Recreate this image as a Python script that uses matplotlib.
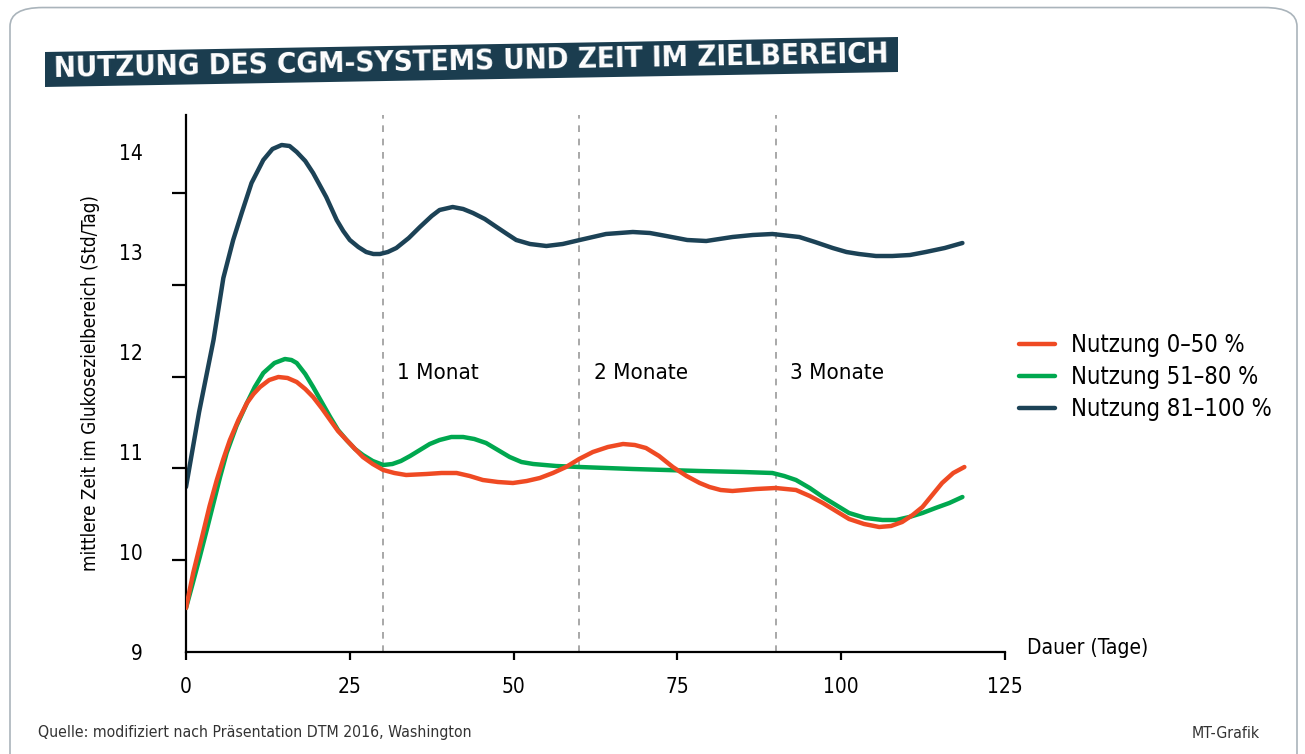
import matplotlib
matplotlib.use("Agg")
import matplotlib.pyplot as plt
from matplotlib.patches import FancyBboxPatch, Polygon

plt.rcParams['font.family'] = ['DejaVu Sans']
plt.rcParams['font.stretch'] = 'condensed'

# values (days, hours/day)
low_x = [0, 1.1, 2.6, 3.6, 4.7, 5.7, 6.7, 8.0, 9.3, 10.3, 11.3, 12.7, 14.1, 15.5, 16.9, 18.2,
         19.4, 20.7, 22.0, 23.2, 24.5, 25.8, 27.0, 28.5, 30.1, 31.8, 33.6, 36.7, 39.0, 41.3,
         43.3, 45.3, 47.6, 49.9, 52.0, 54.0, 56.0, 58.0, 60.0, 62.1, 64.4, 66.7, 68.5, 70.2,
         72.2, 74.3, 76.4, 78.4, 79.9, 81.6, 83.4, 85.2, 87.0, 90.0, 93.1, 95.2, 97.2, 99.2,
         101.2, 103.5, 105.8, 107.6, 109.3, 110.9, 112.4, 113.9, 115.4, 117.1, 118.8]
low_y = [9.44, 9.79, 10.19, 10.46, 10.72, 10.93, 11.12, 11.32, 11.49, 11.58, 11.65, 11.72,
         11.75, 11.74, 11.70, 11.63, 11.55, 11.44, 11.32, 11.21, 11.12, 11.03, 10.95, 10.88,
         10.82, 10.79, 10.77, 10.78, 10.79, 10.79, 10.76, 10.72, 10.70, 10.69, 10.71, 10.74,
         10.79, 10.85, 10.93, 11.0, 11.05, 11.08, 11.07, 11.04, 10.96, 10.85, 10.76, 10.69,
         10.65, 10.62, 10.61, 10.62, 10.63, 10.64, 10.62, 10.56, 10.49, 10.41, 10.33, 10.28,
         10.25, 10.26, 10.30, 10.37, 10.45, 10.57, 10.69, 10.79, 10.85]

mid_x = [0, 1.0, 2.1, 3.2, 4.2, 5.2, 6.2, 7.7, 9.3, 10.5, 11.8, 13.5, 15.1, 16.1, 16.9, 18.2,
         19.4, 20.7, 22.0, 23.2, 24.5, 25.8, 27.0, 28.5, 30.1, 31.5, 32.8, 34.2, 35.7, 37.2,
         38.7, 40.5, 42.3, 44.0, 45.8, 47.6, 49.4, 51.2, 53.0, 56.5, 60.1, 68.2, 78.4, 85.0,
         89.5, 91.3, 93.1, 95.2, 97.2, 99.2, 101.2, 103.7, 106.3, 108.4, 110.4, 112.4, 114.4,
         116.5, 118.5]
mid_y = [9.44, 9.68, 9.95, 10.23, 10.49, 10.75, 10.99, 11.26, 11.49, 11.65, 11.79, 11.89,
         11.93, 11.92, 11.89, 11.78, 11.65, 11.50, 11.35, 11.22, 11.12, 11.03, 10.97, 10.91,
         10.87, 10.88, 10.91, 10.96, 11.02, 11.08, 11.12, 11.15, 11.15, 11.13, 11.09, 11.02,
         10.95, 10.90, 10.88, 10.86, 10.85, 10.83, 10.81, 10.80, 10.79, 10.76, 10.72, 10.64,
         10.55, 10.47, 10.39, 10.34, 10.32, 10.32, 10.35, 10.39, 10.44, 10.49, 10.55]

high_x = [0, 2.0, 4.2, 5.7, 7.2, 8.5, 10.0, 11.8, 13.2, 14.6, 15.8, 16.9, 18.2, 19.4, 21.4,
          23.0, 24.0, 25.0, 26.3, 27.5, 28.6, 29.6, 30.8, 32.1, 34.0, 35.7, 37.5, 38.7, 40.7,
          42.3, 43.8, 45.6, 47.4, 49.0, 50.4, 52.5, 55.0, 57.5, 60.1, 64.1, 68.2, 70.8, 73.3,
          76.5, 79.4, 83.4, 86.5, 89.5, 93.6, 96.0, 98.7, 100.8, 102.7, 105.3, 107.8, 110.5,
          112.9, 115.8, 118.5]
high_y = [10.65, 11.4, 12.12, 12.74, 13.12, 13.39, 13.69, 13.92, 14.03, 14.07, 14.06, 14.0,
          13.91, 13.79, 13.55, 13.32, 13.21, 13.12, 13.05, 13.0, 12.98, 12.98, 13.0, 13.04,
          13.14, 13.25, 13.36, 13.42, 13.45, 13.43, 13.39, 13.33, 13.25, 13.18, 13.12, 13.08,
          13.06, 13.08, 13.12, 13.18, 13.2, 13.19, 13.16, 13.12, 13.11, 13.15, 13.17, 13.18,
          13.15, 13.10, 13.04, 13.0, 12.98, 12.96, 12.96, 12.97, 13.0, 13.04, 13.09]

labels = ['Nutzung 0–50 %', 'Nutzung 51–80 %', 'Nutzung 81–100 %']
colors = ['#ef4a23', '#00a84f', '#1c4256']

months = [30, 60, 90]
month_labels = ['1 Monat', '2 Monate', '3 Monate']

y_labels = [9, 10, 11, 12, 13, 14]
y_marks = [9, 9.92, 10.84, 11.75, 12.67, 13.59]
x_ticks = [0, 25, 50, 75, 100, 125]

fig = plt.figure(figsize=(13.05, 7.54), dpi=100)
ax = fig.add_axes([186 / 1305, 102 / 754, 819 / 1305, 537 / 754])

# frame with rounded corners
fig.patches.append(FancyBboxPatch((10 / 1305, -0.05), 1287 / 1305, 1.04,
                                  boxstyle="round,pad=0,rounding_size=0.025",
                                  transform=fig.transFigure, fill=False, ec='#aab4bb', lw=1.2))

# title banner
fig.patches.append(Polygon([(45 / 1305, 1 - 87 / 754), (898 / 1305, 1 - 72 / 754),
                            (898 / 1305, 1 - 37 / 754), (45 / 1305, 1 - 52 / 754)],
                           closed=True, transform=fig.transFigure, fc='#1b3d4f', ec='none'))
fig.text(471 / 1305, 1 - 62 / 754, 'NUTZUNG DES CGM-SYSTEMS UND ZEIT IM ZIELBEREICH',
         color='white', fontsize=21.2, fontweight='bold', ha='center', va='center', rotation=1.0)

for m, t in zip(months, month_labels):
    ax.axvline(m, color='#9a9a9a', lw=1.2, ls=(0, (4, 4)), zorder=1)
    ax.text(m + 2.2, 11.79, t, fontsize=16, va='center', ha='left')

ax.plot(low_x, low_y, color=colors[0], lw=3.2, label=labels[0], solid_capstyle='round', zorder=3)
ax.plot(mid_x, mid_y, color=colors[1], lw=3.2, label=labels[1], solid_capstyle='round', zorder=2)
ax.plot(high_x, high_y, color=colors[2], lw=3.2, label=labels[2], solid_capstyle='round', zorder=2)

ax.set_xlim(0, 125)
ax.set_ylim(9, 14.37)
for s in ['top', 'right']:
    ax.spines[s].set_visible(False)
for s in ['left', 'bottom']:
    ax.spines[s].set_linewidth(1.6)

ax.set_yticks(y_labels)
ax.set_yticklabels([str(v) for v in y_labels])
ax.set_yticks(y_marks, minor=True)
ax.tick_params(axis='y', which='major', length=0, pad=31, labelsize=15)
ax.tick_params(axis='y', which='minor', length=10, width=1.6)
ax.set_xticks(x_ticks)
ax.tick_params(axis='x', length=6, width=1.6, pad=12, labelsize=15)

ax.set_ylabel('mittlere Zeit im Glukosezielbereich (Std/Tag)', fontsize=13.5, labelpad=14)
ax.text(128.4, 8.94, 'Dauer (Tage)', fontsize=15, ha='left', va='bottom', clip_on=False)

fig.legend(loc='upper left', bbox_to_anchor=(998 / 1305, 1 - 312 / 754), frameon=False,
           fontsize=17, handlelength=1.5, handletextpad=0.7, labelspacing=0.33)

fig.text(38 / 1305, 1 - 733 / 754, 'Quelle: modifiziert nach Präsentation DTM 2016, Washington',
         fontsize=11.3, va='center', color='#333333')
fig.text(1260 / 1305, 1 - 733 / 754, 'MT-Grafik', fontsize=11.3, va='center', ha='right', color='#333333')

fig.savefig('out.png', dpi=100)
